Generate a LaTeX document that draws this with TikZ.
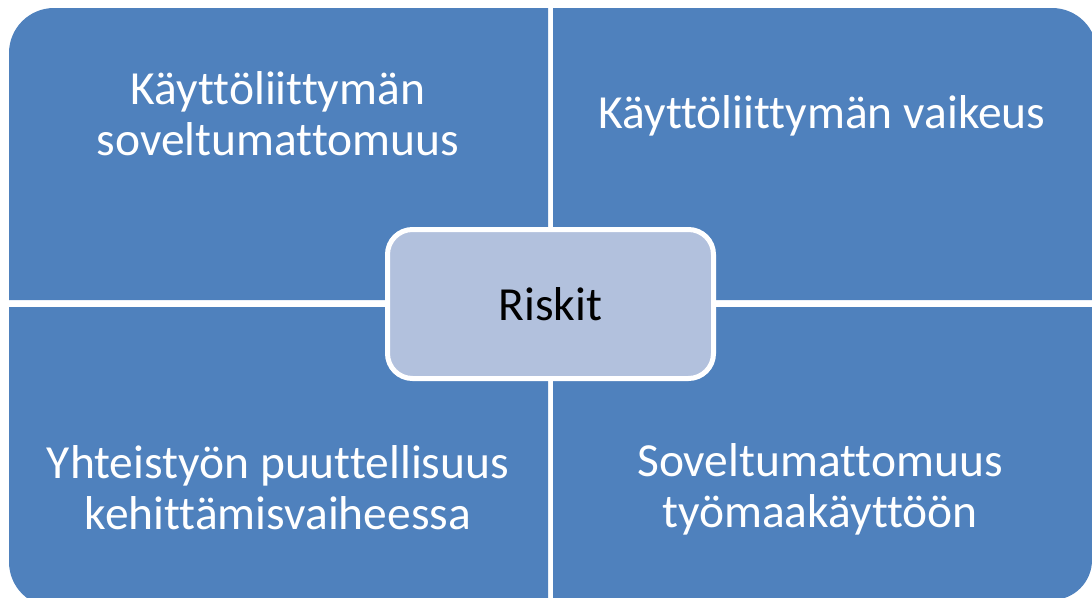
\documentclass[tikz,border=0pt]{standalone}
\usepackage{fontspec}
\setmainfont[Ligatures=NoCommon]{Carlito}
\definecolor{quadblue}{HTML}{4F81BD}
\definecolor{centerfill}{HTML}{B2C1DD}
\begin{document}
\begin{tikzpicture}[x=1pt,y=-1pt,
  quad/.style={fill=quadblue},
  quadtext/.style={text=white, align=center, inner sep=0pt, anchor=base,
    font=\fontsize{47.5}{51}\selectfont},
  centerbox/.style={fill=centerfill, draw=white, line width=5pt,
    rounded corners=25pt, minimum width=326pt, minimum height=149pt,
    inner sep=0pt, font=\fontsize{47.5}{51}\selectfont, text=black}]
\useasboundingbox (0,0) rectangle (1092,597);
\clip (0,0) rectangle (1092,597);
% quadrants
\fill[quad] (548,300) -- (9,300) -- (9,53) arc[start angle=180,end angle=270,radius=45] -- (548,8) -- cycle;
\fill[quad] (553,300) -- (553,8) -- (1052,8) arc[start angle=270,end angle=360,radius=45] -- (1097,300) -- cycle;
\fill[quad] (548,307) -- (548,607) -- (54,607) arc[start angle=90,end angle=180,radius=45] -- (9,307) -- cycle;
\fill[quad] (553,307) -- (1092,307) -- (1092,560) arc[start angle=0,end angle=90,radius=40] -- (553,600) -- cycle;
% texts (base anchor = last line baseline)
\node[quadtext] (tl) at (278,155) {Käyttöliittymän\\soveltumattomuus};
\node[quadtext] (tr) at (822,128) {Käyttöliittymän vaikeus};
\node[quadtext] (bl) at (278,529) {Yhteistyön puuttellisuus\\kehittämisvaiheessa};
\node[quadtext] (br) at (820,527) {Soveltumattomuus\\työmaakäyttöön};
% centre
\node[centerbox] (riskit) at (550.5,304) {Riskit};
\end{tikzpicture}
\end{document}
